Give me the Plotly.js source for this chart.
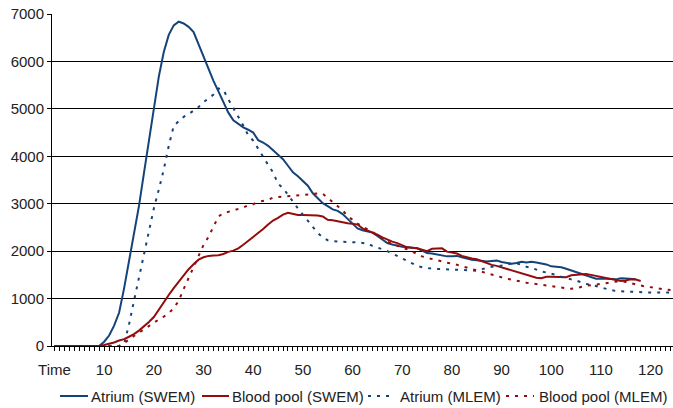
<!DOCTYPE html>
<html>
<head>
<meta charset="utf-8">
<script src="https://cdn.plot.ly/plotly-3.0.1.min.js"></script>
<style>html,body{margin:0;padding:0;background:#fff;}#chart{width:673px;height:408px;}</style>
</head>
<body>
<div id="chart"></div>
<script>
// Category labels (first category is the header cell "Time")
const timeLabels = ["Time",1,2,3,4,5,6,7,8,9,10,11,12,13,14,15,16,17,18,19,20,21,22,23,24,25,26,27,28,29,30,31,32,33,34,35,36,37,38,39,40,41,42,43,44,45,46,47,48,49,50,51,52,53,54,55,56,57,58,59,60,61,62,63,64,65,66,67,68,69,70,71,72,73,74,75,76,77,78,79,80,81,82,83,84,85,86,87,88,89,90,91,92,93,94,95,96,97,98,99,100,101,102,103,104,105,106,107,108,109,110,111,112,113,114,115,116,117,118,119,120,121,122,123,124];
const tickLabels = ["Time","10","20","30","40","50","60","70","80","90","100","110","120"];
const yTicks = [0,1000,2000,3000,4000,5000,6000,7000];
const seriesNames = ["Atrium (SWEM)","Blood pool (SWEM)","Atrium (MLEM)","Blood pool (MLEM)"];

const atriumSWEM = [0,0,0,0,0,0,0,0,0,0,
 90,220,430,700,1210,1770,2350,2950,3640,4350,
 5040,5680,6200,6560,6760,6840,6800,6730,6620,6360,
 6070,5830,5590,5370,5150,4920,4760,4680,4610,4560,
 4500,4340,4290,4220,4120,4030,3940,3800,3660,3580,
 3480,3380,3220,3110,3010,2950,2880,2850,2780,2680,
 2590,2480,2440,2410,2390,2320,2250,2170,2140,2110,
 2090,2080,2070,2060,2010,1960,1950,1930,1920,1890,
 1890,1900,1870,1840,1820,1810,1790,1780,1790,1800,
 1770,1750,1735,1750,1775,1760,1775,1760,1740,1720,
 1680,1670,1660,1630,1595,1570,1535,1500,1455,1420,
 1425,1427,1415,1405,1430,1425,1415,1405];

const bloodSWEM = [0,0,0,0,0,0,0,0,0,0,
 20,42,75,115,145,195,250,325,410,505,
 610,770,920,1075,1220,1360,1505,1620,1725,1820,
 1870,1900,1910,1915,1940,1985,2010,2060,2135,2215,
 2295,2380,2465,2560,2645,2700,2770,2810,2790,2762,
 2760,2760,2760,2750,2730,2660,2650,2630,2600,2590,
 2580,2560,2480,2440,2400,2350,2290,2240,2200,2170,
 2120,2080,2070,2060,2030,2000,2050,2060,2060,1990,
 1970,1950,1900,1870,1845,1830,1790,1750,1710,1690,
 1660,1630,1600,1570,1530,1510,1480,1440,1430,1460,
 1460,1460,1455,1450,1490,1500,1510,1520,1500,1480,
 1460,1440,1420,1400,1370,1380,1405,1400,1370];

const atriumMLEM = [0,0,0,0,0,0,0,0,0,0,
 0,0,0,0,40,450,950,1450,1950,2400,
 2900,3300,3720,4220,4640,4740,4830,4890,4960,5040,
 5140,5220,5300,5430,5400,5200,5020,4850,4650,4440,
 4330,4160,3980,3820,3660,3420,3330,3180,3030,2900,
 2770,2640,2500,2380,2290,2230,2210,2200,2195,2190,
 2185,2185,2175,2160,2110,2080,2040,2000,1950,1900,
 1850,1800,1750,1690,1660,1640,1630,1625,1620,1615,
 1610,1602,1595,1588,1588,1588,1620,1650,1670,1680,
 1690,1710,1740,1745,1710,1670,1650,1610,1570,1550,
 1530,1500,1460,1440,1405,1380,1340,1310,1290,1260,
 1230,1210,1180,1160,1145,1145,1145,1140,1125,1125,
 1128,1130,1130,1130,1130];

const bloodMLEM = [0,0,0,0,0,0,0,0,0,0,
 0,0,0,0,60,140,210,280,350,420,
 500,560,620,690,800,950,1200,1440,1650,1890,
 2130,2300,2510,2730,2800,2830,2860,2890,2920,2970,
 2990,3040,3060,3080,3130,3140,3150,3165,3175,3180,
 3190,3200,3205,3215,3210,3120,3030,2950,2860,2740,
 2650,2580,2520,2460,2410,2340,2270,2200,2160,2110,
 2070,2040,1990,1940,1890,1860,1830,1810,1780,1756,
 1740,1710,1680,1650,1615,1595,1560,1535,1510,1480,
 1450,1420,1400,1375,1350,1335,1320,1305,1290,1275,
 1260,1245,1230,1215,1205,1220,1250,1270,1280,1290,
 1305,1325,1345,1360,1368,1350,1320,1300,1275,1255,
 1235,1225,1205,1190,1180];

const xIdx = timeLabels.map((_, i) => i);
const tickIdx = tickLabels.map(l => timeLabels.indexOf(l === "Time" ? "Time" : Number(l)));

const BLUE = "#134378";
const RED = "#940C0C";
const DOT = "3px,6px";
const styles = [
 {color: BLUE, width: 2},
 {color: RED, width: 2},
 {color: BLUE, width: 2, dash: DOT},
 {color: RED, width: 2, dash: DOT}
];
const seriesData = [atriumSWEM, bloodSWEM, atriumMLEM, bloodMLEM];

const traces = seriesData.map((ys, k) => ({
 x: xIdx.slice(0, ys.length), y: ys, name: seriesNames[k], mode: "lines", line: styles[k], showlegend: false
}));

const font = {family: "Liberation Sans, Arial, sans-serif", size: 15, color: "#222"};

// custom legend geometry (pixels) converted to paper coordinates
const L = 52, W = 621, T = 14, H = 332;
const px2x = p => (p - L) / W;
const py2y = p => (T + H - p) / H;
const legY = py2y(396);
const legLines = [[60, 88], [202, 229], [368, 395], [506, 534]];
const legText = [90, 231, 399, 538];
const shapes = legLines.map((s, k) => ({
 type: "line", xref: "paper", yref: "paper", x0: px2x(s[0]), x1: px2x(s[1]), y0: legY, y1: legY,
 line: styles[k]
}));
const annotations = legText.map((p, k) => ({
 xref: "paper", yref: "paper", x: px2x(p), y: legY, xanchor: "left", yanchor: "middle",
 text: seriesNames[k], showarrow: false, font: font, borderpad: 0
}));

const layout = {
 width: 673, height: 408,
 margin: {l: L, r: 0, t: T, b: 408 - T - H},
 paper_bgcolor: "#fff", plot_bgcolor: "#fff",
 font: font,
 showlegend: false,
 shapes: shapes,
 annotations: annotations,
 xaxis: {
  range: [-0.5, timeLabels.length - 0.5],
  tickmode: "array", tickvals: tickIdx, ticktext: tickLabels,
  ticks: "outside", ticklen: 4, tickcolor: "#000", ticklabelstandoff: 6,
  showline: true, linecolor: "#000", linewidth: 1,
  showgrid: false, zeroline: false, tickfont: font,
  minor: {tickmode: "linear", tick0: 0, dtick: 1, ticks: "outside", ticklen: 4, tickcolor: "#000", showgrid: false}
 },
 yaxis: {
  range: [0, 7000], tickmode: "array", tickvals: yTicks,
  ticks: "outside", ticklen: 4, tickcolor: "#000",
  showline: true, linecolor: "#000", linewidth: 1,
  showgrid: true, gridcolor: "#000", gridwidth: 1, zeroline: false, tickfont: font
 }
};

Plotly.newPlot("chart", traces, layout, {staticPlot: true, displayModeBar: false});
</script>
</body>
</html>
